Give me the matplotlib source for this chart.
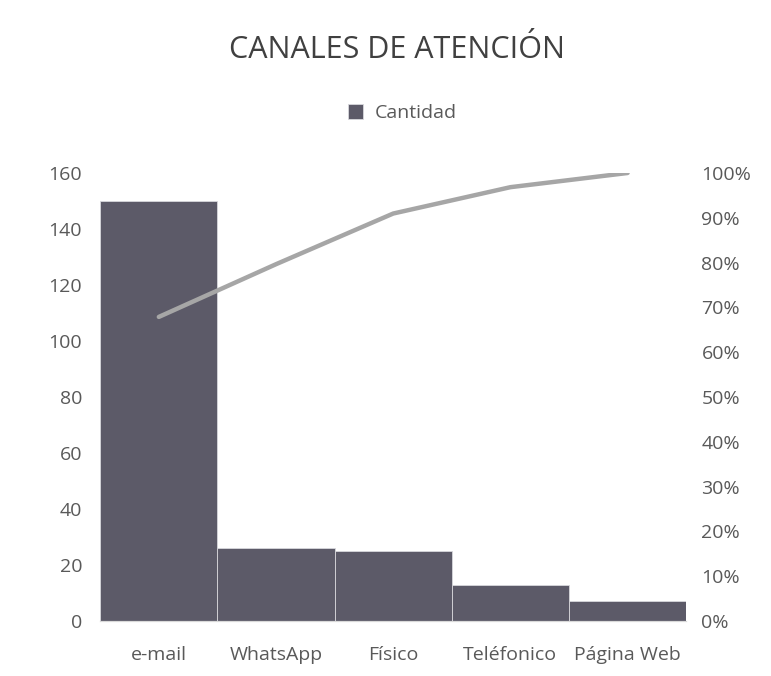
import matplotlib.pyplot as plt
from matplotlib.ticker import PercentFormatter
import numpy as np

# data
canales = ['e-mail', 'WhatsApp', 'Físico', 'Teléfonico', 'Página Web']
cantidad = [150, 26, 25, 13, 7]

acumulado = np.cumsum(cantidad) / np.sum(cantidad) * 100

plt.rcParams['font.family'] = ['Open Sans', 'DejaVu Sans']

fig = plt.figure(figsize=(7.71, 6.76), dpi=100)
ax = fig.add_axes([0.130, 0.0814, 0.760, 0.6627])

x = np.arange(len(canales))
ax.bar(x, cantidad, width=1.0, color='#5c5a68', edgecolor='#d8d8dc',
       linewidth=0.6, label='Cantidad')
ax.set_xlim(-0.5, len(canales) - 0.5)
ax.set_ylim(0, 160)
ax.set_yticks(range(0, 161, 20))
ax.set_xticks(x)
ax.set_xticklabels(canales)

ax2 = ax.twinx()
ax2.plot(x, acumulado, color='#a6a6a6', lw=3.2, solid_capstyle='round')
ax2.set_ylim(0, 100)
ax2.set_yticks(range(0, 101, 10))
ax2.yaxis.set_major_formatter(PercentFormatter(decimals=0))

for a in (ax, ax2):
    for s in ['top', 'left', 'right']:
        a.spines[s].set_visible(False)
    a.spines['bottom'].set_color('#d9d9d9')
    a.tick_params(length=0, labelsize=14, colors='#595959')
ax.tick_params(axis='y', pad=13)
ax2.tick_params(axis='y', pad=11)
ax.tick_params(axis='x', pad=18)

fig.text(0.515, 0.926, 'CANALES DE ATENCIÓN', ha='center', va='center',
         fontsize=22, color='#404040')
leg = ax.legend(loc='center', bbox_to_anchor=(0.522, 0.833), bbox_transform=fig.transFigure,
                frameon=False, fontsize=14, labelcolor='#595959', handlelength=0.8,
                handleheight=0.8, handletextpad=0.6, borderaxespad=0)

fig.savefig('out.png', dpi=100, facecolor='white')
